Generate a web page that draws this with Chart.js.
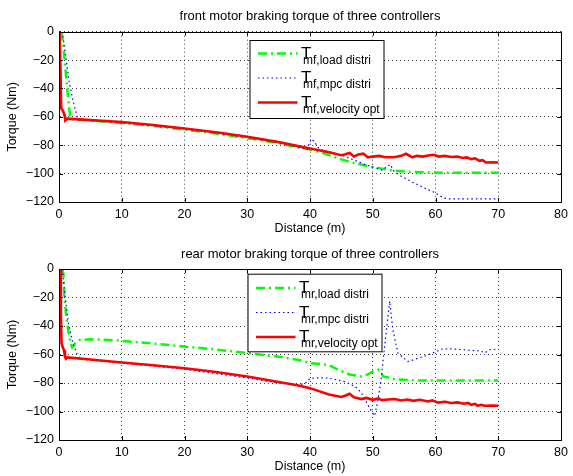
<!DOCTYPE html>
<html>
<head>
<meta charset="utf-8">
<script src="https://cdn.jsdelivr.net/npm/chart.js@4.4.0/dist/chart.umd.min.js"></script>
<style>
  body { margin: 0; background: #fff; }
  #wrap { position: relative; width: 573px; height: 476px; }
  canvas { position: absolute; left: 0; }
</style>
</head>
<body>
<div id="wrap">
  <canvas id="frontChart" width="573" height="238" style="top:0px"></canvas>
  <canvas id="rearChart" width="573" height="238" style="top:238px"></canvas>
</div>
<script>
// ---- data (distance in m, torque in Nm) ----
var xTicks = [0, 10, 20, 30, 40, 50, 60, 70, 80];
var yTicks = [0, -20, -40, -60, -80, -100, -120];

var seriesNames = ['load distri', 'mpc distri', 'velocity opt'];

// front motor
var frontLoadX = [0.4, 0.7, 1.0, 1.35, 1.7, 1.9, 2.5, 5, 10, 15, 20, 25, 30, 35, 38, 40, 42, 45, 47.4, 50.3, 53, 55.6, 59.3, 62, 66, 70];
var frontLoadY = [0, -10, -25, -42, -57, -61.8, -62, -62.6, -64.3, -66.5, -69, -71.8, -75, -78.5, -81.5, -83, -85.4, -90, -93, -95.7, -97.6, -98.8, -99.2, -99.4, -99.4, -99.4];

var frontMpcX = [0.5, 1.0, 1.6, 2.3, 2.9, 3.3, 5, 10, 15, 20, 25, 30, 35, 38, 39.5, 40.2, 40.6, 41.5, 43, 45, 46.5, 48.7, 50.5, 51.5, 52.3, 52.8, 53.3, 54.2, 56.3, 58.4, 60, 61.2, 62, 66, 70];
var frontMpcY = [0, -15, -35, -50, -60, -62, -62.5, -64.3, -66.3, -68.7, -71.5, -74.6, -78.2, -81.2, -83, -75.5, -77, -83, -84.5, -87, -89.5, -93.5, -96, -97.5, -95, -93.5, -98, -101, -106, -110.5, -113.6, -117, -117.8, -117.8, -117.8];

var frontVelX = [0.1, 0.25, 0.35, 0.6, 0.9, 1.0, 1.3, 5, 10, 15, 20, 25, 30, 35, 40, 43, 45, 45.5, 46.3, 47, 47.7, 48.5, 49.2, 50, 51, 52, 53.4, 54.5, 55.3, 56.3, 57, 58, 59, 59.7, 60.5, 61.5, 62.5, 63.5, 64.3, 65, 65.7, 66.3, 67, 67.5, 68, 69, 70];
var frontVelY = [0, -30, -54, -55.5, -59, -62.5, -61.3, -62.3, -63.6, -65.7, -68.2, -70.8, -74, -77.8, -82.3, -85, -87, -86.5, -85.4, -88, -86.5, -85.9, -88.5, -88, -87.5, -88.5, -88.5, -87.5, -86, -88.5, -87.5, -88, -87, -86.8, -88, -87.5, -88.3, -88, -89, -88.6, -89.8, -89.2, -91, -90.5, -92.2, -92, -92.2];

// rear motor
var rearLoadX = [0.5, 0.7, 0.85, 1.1, 1.5, 1.9, 2.1, 2.6, 3.3, 5, 8, 10, 15, 20, 25, 30, 35, 38, 40, 42.9, 44.5, 46.3, 48.2, 49.2, 50.1, 50.9, 51.7, 53.5, 56.7, 60, 65, 70];
var rearLoadY = [0, -3, -18, -31, -44, -53, -55, -52, -49.8, -49.3, -49.8, -50.4, -52.3, -54.4, -56.5, -59, -61.5, -63.7, -66, -67.3, -70.8, -74, -75.4, -74, -71.9, -70.7, -75.4, -77.3, -78.2, -78.2, -78.2, -78.2];

var rearMpcX = [0.5, 1.0, 1.5, 2.2, 3.0, 3.5, 10, 20, 30, 35, 38, 39.3, 40, 41.5, 43, 45.5, 47.2, 48.2, 48.8, 49.8, 50.3, 50.8, 51.3, 51.8, 52.4, 52.7, 53.2, 54, 55.6, 57.2, 58.8, 60.1, 60.9, 62, 63.6, 65.2, 67.1, 67.9, 68.7, 70];
var rearMpcY = [0, -20, -38, -52, -61, -63.3, -66, -70.3, -76.5, -80, -81.6, -80, -76.8, -76.3, -76.6, -79, -82.4, -87, -91.8, -100, -103, -92.6, -78.5, -57.5, -34, -22.5, -42.7, -59, -65, -62.6, -60.3, -58, -56.3, -56, -56.3, -57, -57.5, -58.8, -56.5, -56.5];

var rearVelX = [0.2, 0.3, 0.4, 0.6, 0.8, 0.95, 1.1, 1.3, 5, 10, 15, 20, 25, 30, 35, 38, 40, 43, 45, 45.8, 46.3, 47, 48.2, 49, 50, 50.9, 51.4, 52.5, 53.5, 54.5, 55.5, 56.5, 57.5, 58.8, 59.5, 60.4, 61.5, 62.5, 63.5, 64.5, 65.2, 65.7, 66.3, 66.7, 67.3, 67.8, 69, 70];
var rearVelY = [0, -30, -52, -55, -57, -61.6, -63, -62, -63.5, -65.6, -67.5, -69.6, -72.3, -75.4, -79.3, -81.6, -83.6, -88, -89.8, -88.6, -87.5, -90, -91.3, -90.5, -91.8, -90.8, -92, -91.6, -91.2, -92.3, -91.6, -92.5, -91.8, -93, -92.2, -93.8, -93.2, -94, -93.6, -94.5, -94, -95.3, -94.6, -96, -95.3, -96, -95.8, -96];

var FONT = '"Liberation Sans", Arial, Helvetica, sans-serif';

function toPoints(xs, ys) {
    var pts = [];
    for (var i = 0; i < xs.length; i++) {
        pts.push({x: xs[i], y: ys[i]});
    }
    return pts;
}

// MATLAB style box around the axes, with small ticks pointing inwards
var boxPlugin = {
    id: 'boxFrame',
    afterDatasetsDraw: function(chart) {
        var ctx = chart.ctx;
        var a = chart.chartArea;
        var xs = chart.scales.x, ys = chart.scales.y;
        ctx.save();
        ctx.strokeStyle = '#000';
        ctx.lineWidth = 1;
        ctx.strokeRect(Math.round(a.left) + 0.5, Math.round(a.top) + 0.5,
                       Math.round(a.right - a.left), Math.round(a.bottom - a.top));
        ctx.beginPath();
        xTicks.forEach(function(v) {
            var px = Math.round(xs.getPixelForValue(v)) + 0.5;
            ctx.moveTo(px, a.bottom); ctx.lineTo(px, a.bottom - 4);
            ctx.moveTo(px, a.top); ctx.lineTo(px, a.top + 4);
        });
        yTicks.forEach(function(v) {
            var py = Math.round(ys.getPixelForValue(v)) + 0.5;
            ctx.moveTo(a.left, py); ctx.lineTo(a.left + 4, py);
            ctx.moveTo(a.right, py); ctx.lineTo(a.right - 4, py);
        });
        ctx.stroke();
        ctx.restore();
    }
};

// legend with TeX like subscripts, drawn inside the axes
var texLegendPlugin = {
    id: 'texLegend',
    afterDraw: function(chart, args, opts) {
        var ctx = chart.ctx;
        ctx.save();
        ctx.fillStyle = '#fff';
        ctx.fillRect(opts.x, opts.y, opts.w, opts.h);
        ctx.strokeStyle = '#000';
        ctx.lineWidth = 1;
        ctx.strokeRect(opts.x + 0.5, opts.y + 0.5, opts.w, opts.h);

        chart.data.datasets.forEach(function(ds, i) {
            var ly = opts.y + opts.first + i * opts.step;
            ctx.save();
            ctx.strokeStyle = ds.borderColor;
            ctx.lineWidth = ds.borderWidth;
            ctx.setLineDash(ds.borderDash || []);
            ctx.beginPath();
            ctx.moveTo(opts.x + 8.5, ly);
            ctx.lineTo(opts.x + 48, ly);
            ctx.stroke();
            ctx.restore();

            ctx.fillStyle = '#000';
            ctx.textBaseline = 'alphabetic';
            ctx.font = '17px ' + FONT;
            ctx.fillText('T', opts.x + 51.5, ly + 5.4);
            ctx.font = '12px ' + FONT;
            ctx.fillText(opts.sub + ',' + seriesNames[i], opts.x + 53.5, ly + 10.4);
        });
        ctx.restore();
    }
};

function makeChart(canvasId, title, loadPts, mpcPts, velPts, legendOpts, titlePad) {
    var ctx = document.getElementById(canvasId).getContext('2d');

    const data = {
        datasets: [{
            label: 'load distri',
            data: loadPts,
            borderColor: '#00ff00',
            borderWidth: 2.5,
            borderDash: [9, 4, 2, 4],
            order: 3
        }, {
            label: 'mpc distri',
            data: mpcPts,
            borderColor: '#0000ff',
            borderWidth: 1.2,
            borderDash: [1.5, 3],
            order: 2
        }, {
            label: 'velocity opt',
            data: velPts,
            borderColor: '#ff0000',
            borderWidth: 2.6,
            order: 1
        }]
    };

    const gridStyle = {
        color: 'rgba(0,0,0,0.75)',
        drawTicks: false
    };

    const config = {
        type: 'line',
        data: data,
        options: {
            responsive: false,
            animation: false,
            devicePixelRatio: 1,
            elements: {
                point: { radius: 0 },
                line: { tension: 0, fill: false }
            },
            layout: { padding: { left: 0, right: 9, top: 0, bottom: 0 } },
            plugins: {
                legend: { display: false },
                tooltip: { enabled: false },
                title: {
                    display: true,
                    text: title,
                    fullSize: false,
                    color: '#000',
                    font: { family: FONT, size: 13, weight: 'normal', lineHeight: 1.2 },
                    padding: titlePad
                },
                texLegend: legendOpts
            },
            scales: {
                x: {
                    type: 'linear',
                    min: 0,
                    max: 80,
                    afterBuildTicks: function(s) {
                        s.ticks = xTicks.map(function(v) { return {value: v}; });
                    },
                    ticks: { color: '#000', padding: 5, font: { family: FONT, size: 12.5 } },
                    grid: gridStyle,
                    border: { display: true, color: '#000', dash: [1, 3] },
                    title: {
                        display: true,
                        text: 'Distance (m)',
                        color: '#000',
                        font: { family: FONT, size: 12.5 },
                        padding: { top: 0, bottom: 1.5 }
                    },
                    afterFit: function(s) { s.height = 36; }
                },
                y: {
                    type: 'linear',
                    min: -120,
                    max: 0,
                    afterBuildTicks: function(s) {
                        s.ticks = yTicks.slice().reverse().map(function(v) { return {value: v}; });
                    },
                    ticks: {
                        color: '#000',
                        padding: 5,
                        font: { family: FONT, size: 12.5 },
                        callback: function(v) { return String(v).replace('-', '\u2212'); }
                    },
                    grid: gridStyle,
                    border: { display: true, color: '#000', dash: [1, 3] },
                    title: {
                        display: true,
                        text: 'Torque (Nm)',
                        color: '#000',
                        font: { family: FONT, size: 12.5 },
                        padding: { top: 5, bottom: 0 }
                    },
                    afterFit: function(s) { s.width = 59; }
                }
            }
        },
        plugins: [boxPlugin, texLegendPlugin]
    };

    return new Chart(ctx, config);
}

var frontChart = makeChart('frontChart', 'front motor braking torque of three controllers',
    toPoints(frontLoadX, frontLoadY), toPoints(frontMpcX, frontMpcY), toPoints(frontVelX, frontVelY),
    { x: 249.5, y: 40, w: 134, h: 78, first: 13.5, step: 24.5, sub: 'mf' },
    { top: 8.5, bottom: 7.6 });

var rearChart = makeChart('rearChart', 'rear motor braking torque of three controllers',
    toPoints(rearLoadX, rearLoadY), toPoints(rearMpcX, rearMpcY), toPoints(rearVelX, rearVelY),
    { x: 247.5, y: 35.7, w: 134, h: 77.6, first: 14.3, step: 24.5, sub: 'mr' },
    { top: 8.5, bottom: 6.9 });
</script>
</body>
</html>
